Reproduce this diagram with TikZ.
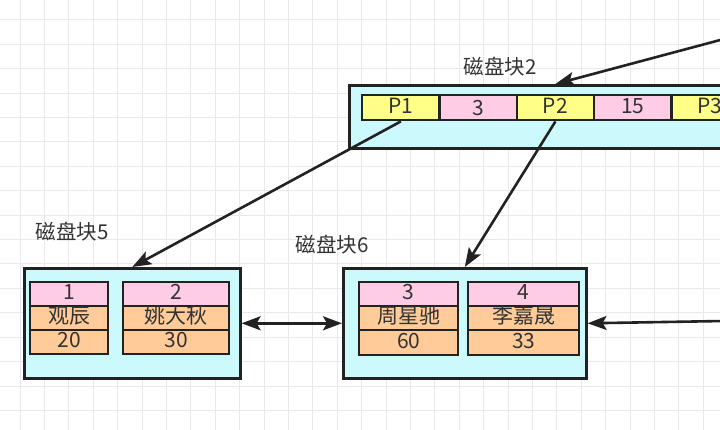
\documentclass[tikz,border=0pt]{standalone}
\usepackage{fontspec}
\setmainfont{Noto Sans CJK SC}
\usetikzlibrary{arrows.meta,calc}
\definecolor{gridc}{HTML}{EAE8EE}
\definecolor{linec}{HTML}{222222}
\definecolor{textc}{HTML}{333333}
\definecolor{cyanc}{HTML}{CCFAFC}
\definecolor{yellowc}{HTML}{FFFF88}
\definecolor{pinkc}{HTML}{FFCCE6}
\definecolor{orangec}{HTML}{FFCC99}
\begin{document}
\begin{tikzpicture}[x=1pt,y=-1pt,
  block/.style={draw=linec, line width=2.6pt, fill=cyanc, inner sep=0pt, anchor=north west},
  cell/.style={draw=linec, line width=2.4pt, inner sep=0pt, anchor=north west,
    font=\fontsize{21}{21}\selectfont, text=textc, text height=15pt, text depth=3.5pt},
  lbl/.style={font=\fontsize{20.5}{20.5}\selectfont, text=textc, inner sep=0pt},
  tip/.style={},
  arr/.style={draw=linec, line width=2.6pt, -{Stealth[length=19pt,width=14pt,inset=4pt]}},
  arrboth/.style={draw=linec, line width=2.6pt, {Stealth[length=19pt,width=14pt,inset=4pt]}-{Stealth[length=19pt,width=14pt,inset=4pt]}},
  gridline/.style={draw=gridc, line width=1pt}]
\useasboundingbox (0,0) rectangle (720,430);
\clip (0,0) rectangle (720,430);
\fill[white] (0,0) rectangle (720,430);
\foreach \i in {0,...,29} {
  \draw[gridline] ({20+24.4*\i},0) -- ({20+24.4*\i},430);
}
\foreach \j in {0,...,17} {
  \draw[gridline] (0,{20+24.4*\j}) -- (720,{20+24.4*\j});
}

% block 2
\node[lbl] (l2) at (500,67) {磁盘块2};
\node[block, minimum width=390pt, minimum height=63pt] (b2) at (348,84) {};
\node[cell, fill=yellowc, minimum width=77.3pt, minimum height=25pt] (p1) at (361,94) {P1};
\node[cell, fill=pinkc, minimum width=77.3pt, minimum height=25pt] (k3) at (438.3,94) {\raisebox{-2pt}{3}};
\node[cell, fill=yellowc, minimum width=77.3pt, minimum height=25pt] (p2) at (515.6,94) {P2};
\node[cell, fill=pinkc, minimum width=77.3pt, minimum height=25pt] (k15) at (592.9,94) {15};
\node[cell, fill=yellowc, minimum width=77.3pt, minimum height=25pt] (p3) at (670.2,94) {P3};

% block 5
\node[lbl] (l5) at (72,232) {磁盘块5};
\node[block, minimum width=216pt, minimum height=110pt] (b5) at (23,267) {};
\node[cell, fill=pinkc, minimum width=78pt, minimum height=24pt] (a1) at (29,281) {1};
\node[cell, fill=orangec, minimum width=78pt, minimum height=24pt] (a2) at (29,305) {观辰};
\node[cell, fill=orangec, minimum width=78pt, minimum height=24pt] (a3) at (29,329) {20};
\node[cell, fill=pinkc, minimum width=106pt, minimum height=24pt] (b1) at (122,281) {2};
\node[cell, fill=orangec, minimum width=106pt, minimum height=24pt] (b2n) at (122,305) {姚大秋};
\node[cell, fill=orangec, minimum width=106pt, minimum height=24pt] (b3) at (122,329) {30};

% block 6
\node[lbl] (l6) at (332,245) {磁盘块6};
\node[block, minimum width=243pt, minimum height=110pt] (b6) at (342,267) {};
\node[cell, fill=pinkc, minimum width=99pt, minimum height=24pt] (c1) at (358,281) {3};
\node[cell, fill=orangec, minimum width=99pt, minimum height=24pt] (c2) at (358,305) {周星驰};
\node[cell, fill=orangec, minimum width=99pt, minimum height=25pt] (c3) at (358,329) {60};
\node[cell, fill=pinkc, minimum width=111pt, minimum height=24pt] (d1) at (467,281) {4};
\node[cell, fill=orangec, minimum width=111pt, minimum height=24pt] (d2) at (467,305) {李嘉晟};
\node[cell, fill=orangec, minimum width=111pt, minimum height=25pt] (d3) at (467,329) {33};

% connectors
\coordinate (src1) at (724,39);
\coordinate (src2) at (724,321);
\draw[arr] (src1) -- (b2.north -| p2);
\draw[arr] (p1.south) -- (b5.north);
\draw[arr] (p2.south) -- (b6.north);
\draw[arrboth] (b5.east) -- (b6.west);
\draw[arr] (src2) -- (b6.east);
\end{tikzpicture}
\end{document}
